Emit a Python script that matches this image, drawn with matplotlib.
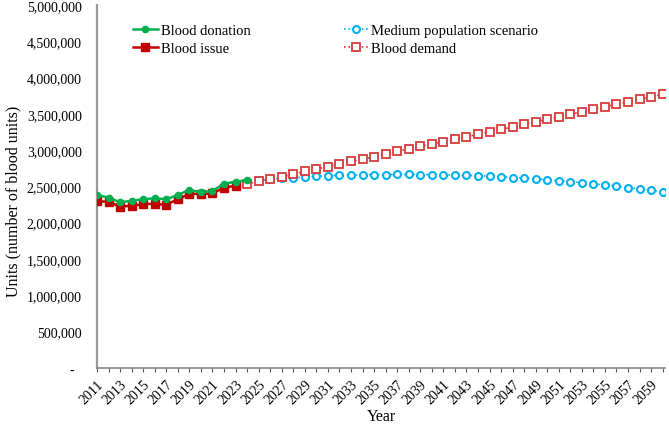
# Blood donation / issue history and projected demand, 2011-2060

import matplotlib.pyplot as plt
from matplotlib.ticker import FuncFormatter

plt.rcParams['font.family'] = ['Liberation Serif', 'DejaVu Serif']

years_hist = list(range(2011, 2025))
donation = [2383000, 2342000, 2279000, 2300000, 2320000, 2334000, 2320000,
            2380000, 2450000, 2416000, 2434000, 2535000, 2563000, 2582000]

years_issue = list(range(2011, 2024))
issue = [2292000, 2287000, 2218000, 2232000, 2251000, 2260000, 2241000,
         2324000, 2389000, 2397000, 2400000, 2480000, 2508000]

years_medium = list(range(2025, 2061))
medium = [2586000, 2600000, 2610000, 2618000, 2628000, 2637000, 2645000,
          2651000, 2655000, 2658000, 2660000, 2661000, 2662000, 2662000,
          2661000, 2660000, 2658000, 2655000, 2651000, 2645000, 2638000,
          2628000, 2620000, 2612000, 2600000, 2590000, 2577000, 2563000,
          2549000, 2533000, 2517000, 2500000, 2481000, 2463000, 2444000,
          2425000]

years_demand = list(range(2024, 2061))
demand = [2531000, 2568000, 2596000, 2632000, 2665000, 2706000, 2738000,
          2770000, 2800000, 2844000, 2870000, 2908000, 2949000, 2980000,
          3015000, 3050000, 3083000, 3114000, 3152000, 3183000, 3216000,
          3252000, 3285000, 3317000, 3354000, 3390000, 3423000, 3455000,
          3492000, 3528000, 3561000, 3597000, 3630000, 3666000, 3700000,
          3735000, 3768000]

fig = plt.figure(figsize=(6.69, 4.27), dpi=100)
ax = fig.add_axes([0.145, 0.137, 0.849, 0.849])  # [left, bottom, width, height]

ax.plot(years_hist, donation, color='#00B050', lw=1.8, marker='o', ms=4.5,
        label='Blood donation', zorder=4)
ax.plot(years_issue, issue, color='#C00000', lw=1.8, marker='s', ms=5.5,
        label='Blood issue', zorder=3)
ax.plot(years_medium, medium, color='#00B0F0', lw=1.2, ls=':', marker='o',
        ms=5, mfc='white', mec='#00B0F0', mew=1.5,
        label='Medium population scenario', zorder=2)
ax.plot(years_demand, demand, color='#D83B3B', lw=1.2, ls=':', marker='s',
        ms=5.5, mfc='white', mec='#D83B3B', mew=1.3,
        label='Blood demand', zorder=3)

ax.set_xlim(2011, 2060.2)
ax.set_ylim(0, 5000000)
ax.set_yticks(range(0, 5000001, 500000))
ax.yaxis.set_major_formatter(FuncFormatter(lambda v, p: '-  ' if v == 0 else f'{v:,.0f}'))
ax.set_xticks(range(2011, 2061))
ax.set_xticklabels([str(y) if (y - 2011) % 2 == 0 else '' for y in range(2011, 2061)],
                   rotation=45, ha='right', rotation_mode='anchor')

ax.tick_params(axis='y', length=0, pad=11, labelsize=10)
ax.tick_params(axis='x', length=3, width=0.8, color='#555555', labelsize=10, pad=4)

for s in ['top', 'right']:
    ax.spines[s].set_visible(False)
ax.spines['left'].set_color('#999999')
ax.spines['left'].set_linewidth(1.6)
ax.spines['bottom'].set_color('#888888')
ax.spines['bottom'].set_linewidth(1.2)

ax.set_ylabel('Units (number of blood units)', fontsize=11.5)
ax.yaxis.set_label_coords(-0.134, 0.46)
ax.set_xlabel('Year', fontsize=11.5, labelpad=1)

ax.legend(ncol=2, frameon=False, loc='upper left', bbox_to_anchor=(0.04, 0.985),
          fontsize=10.5, handlelength=1.7, handletextpad=0.2, columnspacing=6.4,
          labelspacing=0.35)

fig.savefig('out.png', dpi=100)
